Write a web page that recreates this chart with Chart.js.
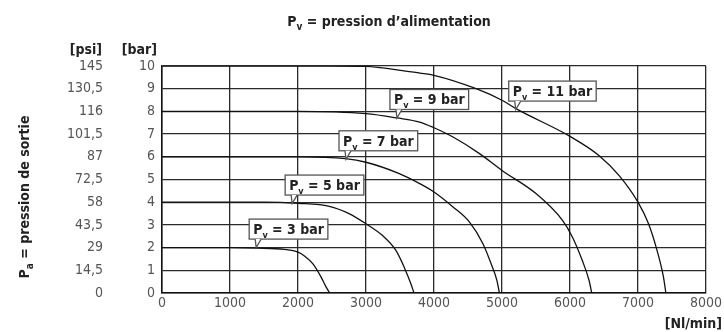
<!DOCTYPE html>
<html><head><meta charset="utf-8">
<script src="https://cdn.jsdelivr.net/npm/chart.js@4"></script>
<style>html,body{margin:0;padding:0;background:#fff}</style>
</head><body>
<canvas id="c" width="724" height="332"></canvas>
<script>
// ---- data ----
const barTicks = [0,1,2,3,4,5,6,7,8,9,10];
const psiLabels = ['0','14,5','29','43,5','58','72,5','87','101,5','116','130,5','145'];
const flowTicks = [0,1000,2000,3000,4000,5000,6000,7000,8000];

const supplyPressures = [3,5,7,9,11];
const flow3 = [0,1000,1400,1800,2000,2100,2220,2340,2410,2465];
const p3    = [2.0,2.0,1.98,1.92,1.80,1.62,1.28,0.70,0.28,0];
const flow5 = [0,1500,2000,2460,2750,3000,3240,3440,3560,3660,3706];
const p5    = [4.0,4.0,3.95,3.82,3.5,3.05,2.54,1.88,1.15,0.41,0];
const flow7 = [0,2000,2700,3000,3490,3790,4000,4280,4520,4720,4840,4925,4962];
const p7    = [6.0,6.0,5.92,5.76,5.26,4.82,4.45,3.79,3.13,2.17,1.29,0.56,0];
const flow9 = [0,2000,3000,3460,3790,4000,4280,4670,5000,5500,5890,6035,6180,6280,6320];
const p9    = [8.0,8.0,7.9,7.71,7.53,7.28,6.87,6.14,5.40,4.38,3.2,2.47,1.44,0.56,0];
const flow11 = [0,2500,3000,3535,3790,4000,4620,5000,5205,6000,6425,6720,7000,7155,7280,7375,7410];
const p11    = [10,10,9.98,9.8,9.69,9.59,9.0,8.49,8.12,6.9,6.06,5.18,4.0,3.05,1.88,0.7,0];

// callout anchor points on each curve (flow, bar)
const calloutFlow = [1385,1914,2706,3455,5202];
const calloutBar  = [2.0,3.94,5.89,7.71,8.08];

const FONT = "'Liberation Sans Narrow','DejaVu Sans Condensed','Roboto',sans-serif";

const series = [[flow3,p3],[flow5,p5],[flow7,p7],[flow9,p9],[flow11,p11]];
const datasets = series.map((s,i)=>({
  label: 'Pv = ' + supplyPressures[i] + ' bar',
  data: s[0].map((x,j)=>({x:x,y:s[1][j]})),
  borderColor:'#111', borderWidth:1.3, pointRadius:0, fill:false,
  cubicInterpolationMode:'monotone'
}));

function drawParts(ctx, x, y, parts, align){
  let w = 0;
  parts.forEach(p=>{ ctx.font = 'bold '+p[1]+'px '+FONT; w += ctx.measureText(p[0]).width; });
  let cx = align==='center' ? x - w/2 : (align==='right' ? x - w : x);
  ctx.textBaseline = 'alphabetic'; ctx.textAlign = 'left';
  parts.forEach(p=>{
    ctx.font = 'bold '+p[1]+'px '+FONT;
    ctx.fillText(p[0], cx, y + (p[2]||0));
    cx += ctx.measureText(p[0]).width;
  });
  return w;
}
function partsWidth(ctx, parts){
  let w=0; parts.forEach(p=>{ ctx.font='bold '+p[1]+'px '+FONT; w+=ctx.measureText(p[0]).width; }); return w;
}

const textPlugin = {
  id:'texts',
  afterDatasetsDraw(chart){
    const ctx = chart.ctx, xs = chart.scales.x, ys = chart.scales.y;
    ctx.save();
    calloutFlow.forEach((f,i)=>{
      const ax = xs.getPixelForValue(f), ay = ys.getPixelForValue(calloutBar[i]);
      const parts = [['P',14],['v',9,4],[' = '+supplyPressures[i]+' bar',14]];
      const tw = partsWidth(ctx, parts);
      const bx = ax - 7, bb = ay - 8.5, bh = 20, bw = tw + 8, bt = bb - bh;
      ctx.fillStyle = '#fff'; ctx.strokeStyle = '#555'; ctx.lineWidth = 1.3;
      ctx.fillRect(bx, bt, bw, bh); ctx.strokeRect(bx, bt, bw, bh);
      ctx.beginPath(); ctx.moveTo(bx+6, bb); ctx.lineTo(ax, ay); ctx.lineTo(bx+12, bb); ctx.closePath();
      ctx.fill();
      ctx.beginPath(); ctx.moveTo(bx+6, bb); ctx.lineTo(ax, ay); ctx.lineTo(bx+12, bb); ctx.stroke();
      ctx.fillStyle = '#222';
      drawParts(ctx, bx+4, bt+15, parts, 'left');
    });
    ctx.restore();
  },
  afterDraw(chart){
    const ctx = chart.ctx;
    ctx.save();
    ctx.fillStyle = '#222';
    drawParts(ctx, 389, 26, [['P',14],['v',10,4],[' = pression d\u2019alimentation',14]], 'center');
    drawParts(ctx, 102, 54, [['[psi]',14]], 'right');
    drawParts(ctx, 157, 54, [['[bar]',14]], 'right');
    drawParts(ctx, 722, 328, [['[Nl/min]',14]], 'right');
    ctx.translate(29, 197); ctx.rotate(-Math.PI/2);
    drawParts(ctx, 0, 0, [['P',14],['a',10,4],[' = pression de sortie',14]], 'center');
    ctx.restore();
  }
};

new Chart(document.getElementById('c'), {
  type:'line',
  data:{datasets:datasets},
  plugins:[textPlugin],
  options:{
    responsive:false, animation:false, devicePixelRatio:1,
    layout:{padding:{left:40,right:17,top:66,bottom:0}},
    plugins:{legend:{display:false}, tooltip:{enabled:false}},
    scales:{
      x:{type:'linear', min:0, max:8000,
        afterBuildTicks:s=>{s.ticks = flowTicks.map(v=>({value:v}));},
        grid:{color:'#2a2a2a', lineWidth:1.3, drawTicks:false},
        border:{color:'#111', width:1.5},
        ticks:{padding:2, color:'#555', font:{family:FONT, size:14}, maxRotation:0,
          callback:(v,i)=>String(flowTicks[i])},
        afterFit:s=>{s.height=39;}
      },
      y:{type:'linear', position:'left', min:0, max:10, weight:0,
        afterBuildTicks:s=>{s.ticks = barTicks.map(v=>({value:v}));},
        grid:{color:'#2a2a2a', lineWidth:1.3, drawTicks:false},
        border:{color:'#111', width:1.5},
        ticks:{padding:7, color:'#555', font:{family:FONT, size:14},
          callback:(v,i)=>String(barTicks[i])},
        afterFit:s=>{s.width=52;}
      },
      yPsi:{type:'linear', position:'left', min:0, max:10, weight:1,
        afterBuildTicks:s=>{s.ticks = barTicks.map(v=>({value:v}));},
        grid:{display:false, drawTicks:false}, border:{display:false},
        ticks:{padding:7, color:'#555', font:{family:FONT, size:14}, callback:(v,i)=>psiLabels[i]},
        afterFit:s=>{s.width=70;}
      }
    }
  }
});
</script>
</body></html>
